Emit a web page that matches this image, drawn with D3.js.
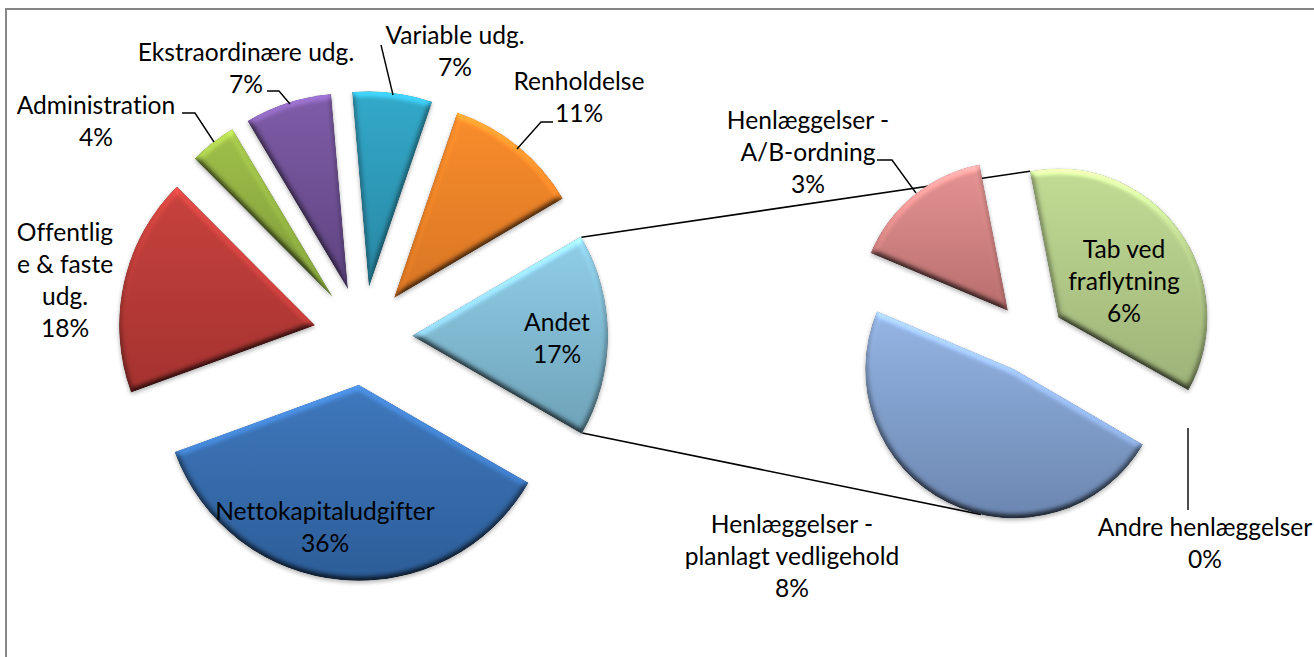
<!DOCTYPE html>
<html><head><meta charset="utf-8">
<script src="https://cdn.jsdelivr.net/npm/d3@7"></script>
<style>html,body{margin:0;padding:0;background:#fff;overflow:hidden}svg{display:block}
text{font-family:Lato,"Open Sans",sans-serif;font-size:24.6px;fill:#000;text-anchor:middle;font-variant-ligatures:none}</style>
</head><body><svg id="c" width="1314" height="657"></svg>
<script>
const mainCategories=["Nettokapitaludgifter","Offentlige & faste udg.","Administration","Ekstraordinære udg.","Variable udg.","Renholdelse","Andet"];
const mainValues=[36.1,18.1,3.9,7.2,6.6,11.3,16.8];
const mainPct=["36%","18%","4%","7%","7%","11%","17%"];
const subCategories=["Tab ved fraflytning","Andre henlæggelser","Henlæggelser - planlagt vedligehold","Henlæggelser - A/B-ordning"];
const subValues=[6.15,0.05,8.15,2.65];
const subPct=["6%","0%","8%","3%"];
const mainColors=[["#3f78bd","#2c5d98"],["#c8423e","#a4322f"],["#a0c04a","#7d9a38"],["#7f5ca8","#5e437f"],["#33a9ca","#2887a3"],["#f98d2b","#d87524"],["#90cfe8","#6ea2b8"]];
const subColors=[["#c2dc94","#9db278"],["#888","#888"],["#95b5e4","#6b86b0"],["#e49492","#b86e6d"]];

const mainLabelLines=[["Nettokapitaludgifter",mainPct[0]],["Offentlig","e & faste","udg.",mainPct[1]],["Administration",mainPct[2]],["Ekstraordinære udg.",mainPct[3]],["Variable udg.",mainPct[4]],["Renholdelse",mainPct[5]],["Andet",mainPct[6]]];
const subLabelLines=[["Tab ved","fraflytning",subPct[0]],["Andre henlæggelser",subPct[1]],["Henlæggelser -","planlagt vedligehold",subPct[2]],["Henlæggelser -","A/B-ordning",subPct[3]]];
const mainLabelAt=[[325,520],[65,241],[96,114],[246,61],[455,44],[579,90],[557,331]];
const subLabelAt=[[1124,258],[1205,536],[792,533],[808,129]];
const mainLeaders=[null,null,[[182,113],[195,113],[214,142]],[[267,91],[279,91],[290,104]],null,[[553,122],[541,122],[517,149]],null];
const subLeaders=[null,[[1188,428],[1188,510]],null,[[877,160],[892,160],[916,193]]];
const variableLeader=[[381,45],[393,95]];

const svg=d3.select("#c");
const defs=svg.append("defs");
const f=defs.append("filter").attr("id","bevel").attr("x","-15%").attr("y","-15%").attr("width","130%").attr("height","130%").attr("color-interpolation-filters","sRGB");
f.append("feGaussianBlur").attr("in","SourceAlpha").attr("stdDeviation",3).attr("result","b");
f.append("feDiffuseLighting").attr("in","b").attr("surfaceScale",3.2).attr("diffuseConstant",1.0).attr("lighting-color","#fff").attr("result","l")
 .append("feDistantLight").attr("azimuth",270).attr("elevation",52);
f.append("feComposite").attr("in","SourceGraphic").attr("in2","l").attr("operator","arithmetic").attr("k1",1.27).attr("k2",0).attr("k3",0).attr("k4",0).attr("result","lit");
f.append("feComposite").attr("in","lit").attr("in2","SourceAlpha").attr("operator","in").attr("result","clip");
f.append("feGaussianBlur").attr("in","SourceAlpha").attr("stdDeviation",2).attr("result","sb");
f.append("feOffset").attr("in","sb").attr("dy",2).attr("result","so");
f.append("feComponentTransfer").attr("in","so").attr("result","sh").append("feFuncA").attr("type","linear").attr("slope",0.3);
const m=f.append("feMerge");m.append("feMergeNode").attr("in","sh");m.append("feMergeNode").attr("in","clip");

function grad(id,c){const g=defs.append("linearGradient").attr("id",id).attr("x1",0).attr("y1",0).attr("x2",0).attr("y2",1);
 g.append("stop").attr("offset",0).attr("stop-color",c[0]);g.append("stop").attr("offset",1).attr("stop-color",c[1]);}

svg.append("rect").attr("x",6).attr("y",9).attr("width",1400).attr("height",800).attr("fill","#fff").attr("stroke","#868686").attr("stroke-width",2);

const lineG=svg.append("g");

function drawPie(opts){
 const pie=d3.pie().sort(null).startAngle(opts.start).endAngle(opts.start+2*Math.PI)(opts.values);
 const arc=d3.arc().innerRadius(0).outerRadius(opts.r);
 const g=svg.append("g");
 pie.forEach((d,i)=>{
  const mid=(d.startAngle+d.endAngle)/2;
  const dx=opts.cx+opts.explode*Math.sin(mid),dy=opts.cy-opts.explode*Math.cos(mid);
  if(d.value<1)return;
  grad(opts.id+i,opts.colors[i]);
  g.append("path").attr("d",arc(d)).attr("transform",`translate(${dx},${dy})`).attr("fill",`url(#${opts.id}${i})`).attr("filter","url(#bevel)");
 });
}
const rad=d3.scaleLinear().domain([0,360]).range([0,2*Math.PI]);
const P1={cx:363,cy:336,r:196,explode:49};
const P2={cx:1030,cy:338,r:149,explode:35};
const subStart=-11;

const pieA=d3.pie().sort(null).startAngle(rad(120)).endAngle(rad(480))(mainValues)[6];
const ax=P1.cx+P1.explode*Math.sin((pieA.startAngle+pieA.endAngle)/2),ay=P1.cy-P1.explode*Math.cos((pieA.startAngle+pieA.endAngle)/2);
const edge=a=>[ax+P1.r*Math.sin(a),ay-P1.r*Math.cos(a)];
const pieB=d3.pie().sort(null).startAngle(rad(subStart)).endAngle(rad(subStart+360))(subValues);
const sp=(d,a)=>{const mid=(d.startAngle+d.endAngle)/2;return [P2.cx+P2.explode*Math.sin(mid)+P2.r*Math.sin(a),P2.cy-P2.explode*Math.cos(mid)-P2.r*Math.cos(a)];};
const line=d3.line();
lineG.append("path").attr("d",line([edge(pieA.startAngle+0.005),sp(pieB[0],pieB[0].startAngle)])).attr("fill","none").attr("stroke","#000").attr("stroke-width",1.6);
lineG.append("path").attr("d",line([edge(pieA.endAngle-0.005),sp(pieB[2],rad(193))])).attr("fill","none").attr("stroke","#000").attr("stroke-width",1.6);

drawPie({cx:P1.cx,cy:P1.cy,r:P1.r,explode:P1.explode,start:rad(120),values:mainValues,colors:mainColors,id:"m"});
drawPie({cx:P2.cx,cy:P2.cy,r:P2.r,explode:P2.explode,start:rad(subStart),values:subValues,colors:subColors,id:"s"});

const lead=svg.append("g");
mainLeaders.concat(subLeaders,[variableLeader]).forEach(l=>{if(l)lead.append("path").attr("d",line(l)).attr("fill","none").attr("stroke","#000").attr("stroke-width",1.4);});

function labels(lines,at){lines.forEach((ls,i)=>{
 const t=svg.append("text").attr("x",at[i][0]).attr("y",at[i][1]);
 ls.forEach((s,j)=>t.append("tspan").attr("x",at[i][0]).attr("dy",j?32:0).text(s));
});}
labels(mainLabelLines,mainLabelAt);
labels(subLabelLines,subLabelAt);
</script></body></html>
